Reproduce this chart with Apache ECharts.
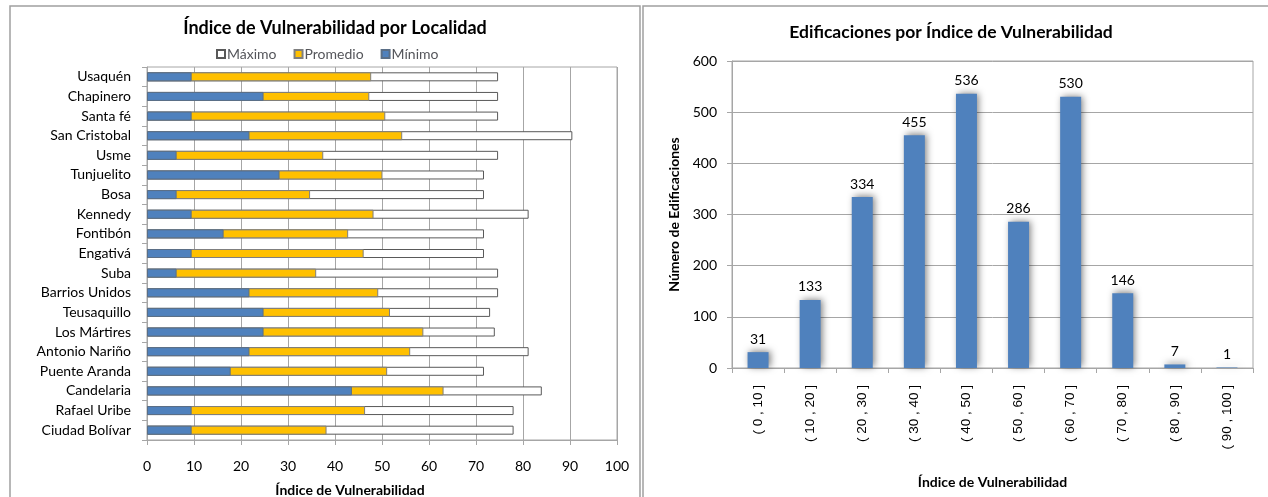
<!DOCTYPE html>
<html><head><meta charset="utf-8">
<script src="https://cdn.jsdelivr.net/npm/echarts/dist/echarts.min.js"></script>
<style>html,body{margin:0;padding:0;background:#fff}#c{width:1268px;height:497px}</style>
</head><body><div id="c"></div>
<script>
const localidades = ['Usaquén','Chapinero','Santa fé','San Cristobal','Usme','Tunjuelito','Bosa','Kennedy','Fontibón','Engativá','Suba','Barrios Unidos','Teusaquillo','Los Mártires','Antonio Nariño','Puente Aranda','Candelaria','Rafael Uribe','Ciudad Bolívar'];
const maximo   = [74.7,74.7,74.7,90.5,74.7,71.7,71.7,81.2,71.7,71.7,74.7,74.7,73.0,74.0,81.2,71.7,84.0,78.0,78.0];
const promedio = [47.7,47.3,50.7,54.3,37.5,50.1,34.7,48.2,42.8,46.1,36.0,49.2,51.7,58.8,56.0,51.1,63.1,46.4,38.2];
const minimo   = [9.5,24.8,9.5,21.8,6.3,28.2,6.3,9.5,16.3,9.5,6.3,21.8,24.8,24.8,21.8,17.8,43.6,9.5,9.5];
const rangos = ['( 0 , 10 ]','( 10 , 20 ]','( 20 , 30 ]','( 30 , 40 ]','( 40 , 50 ]','( 50 , 60 ]','( 60 , 70 ]','( 70 , 80 ]','( 80 , 90 ]','( 90 , 100 ]'];
const edificaciones = [31,133,334,455,536,286,530,146,7,1];

const F = 'Lato, "Liberation Sans", sans-serif';
const GRID = '#a6a6a6';
const chart = echarts.init(document.getElementById('c'));
chart.setOption({
  animation: false,
  textStyle: {fontFamily: F, color: '#000'},
  graphic: [
    {type: 'rect', shape: {x: 10, y: 6, width: 630, height: 520}, style: {fill: 'none', stroke: '#a0a0a0', lineWidth: 1.5}},
    {type: 'rect', shape: {x: 643, y: 6, width: 640, height: 520}, style: {fill: 'none', stroke: '#a0a0a0', lineWidth: 1.5}},
    {type: 'text', x: 335, y: 28, style: {text: 'Índice de Vulnerabilidad por Localidad', font: 'bold 18px ' + F, fill: '#000', textAlign: 'center', textVerticalAlign: 'middle'}},
    {type: 'text', x: 951, y: 32, style: {text: 'Edificaciones por Índice de Vulnerabilidad', font: 'bold 17.5px ' + F, fill: '#000', textAlign: 'center', textVerticalAlign: 'middle'}},
    {type: 'text', x: 350, y: 490, style: {text: 'Índice de Vulnerabilidad', font: 'bold 14px ' + F, fill: '#000', textAlign: 'center', textVerticalAlign: 'middle'}}
  ],
  legend: {
    left: 216, top: 47, padding: 0, itemWidth: 8, itemHeight: 8, itemGap: 17, icon: 'rect',
    textStyle: {fontSize: 14, fontFamily: F, padding: [0, 0, 0, -3]},
    data: ['Máximo', 'Promedio', 'Mínimo']
  },
  grid: [
    {left: 147, top: 67, width: 470, height: 373, show: true, borderColor: GRID, borderWidth: 1, backgroundColor: 'transparent'},
    {left: 732, top: 61, width: 521, height: 307, show: true, borderColor: GRID, borderWidth: 1, backgroundColor: 'transparent'}
  ],
  xAxis: [
    {gridIndex: 0, type: 'value', min: 0, max: 100, interval: 10,
     axisLine: {show: true, lineStyle: {color: GRID}},
     axisTick: {show: true, length: 5, lineStyle: {color: GRID}},
     splitLine: {show: true, lineStyle: {color: GRID}},
     axisLabel: {fontSize: 14, margin: 19, color: '#000', fontFamily: F}},
    {gridIndex: 1, type: 'category', data: rangos,
     axisLine: {lineStyle: {color: GRID}},
     axisTick: {show: true, length: 5, lineStyle: {color: GRID}},
     axisLabel: {rotate: 90, fontSize: 13.5, margin: 17, color: '#000', fontFamily: '"Liberation Sans", sans-serif'},
     name: 'Índice de Vulnerabilidad', nameLocation: 'middle', nameGap: 107,
     nameTextStyle: {fontWeight: 'bold', fontSize: 14, fontFamily: F, color: '#000'}}
  ],
  yAxis: [
    {gridIndex: 0, type: 'category', data: localidades, inverse: true,
     axisLine: {lineStyle: {color: GRID}},
     axisTick: {show: true, length: 5, lineStyle: {color: GRID}},
     axisLabel: {fontSize: 14, margin: 16, color: '#000', fontFamily: F}},
    {gridIndex: 1, type: 'value', min: 0, max: 600, interval: 100,
     axisLine: {show: true, lineStyle: {color: GRID}},
     axisTick: {show: true, length: 5, lineStyle: {color: GRID}},
     splitLine: {show: true, lineStyle: {color: GRID}},
     axisLabel: {fontSize: 14, margin: 15, color: '#000', fontFamily: F},
     name: 'Número de Edificaciones', nameLocation: 'middle', nameGap: 51,
     nameTextStyle: {fontWeight: 'bold', fontSize: 14, fontFamily: F, color: '#000'}}
  ],
  series: [
    {name: 'Máximo', type: 'bar', xAxisIndex: 0, yAxisIndex: 0, data: maximo, barWidth: 9, barGap: '-100%',
     itemStyle: {color: '#ffffff', borderColor: '#595959', borderWidth: 1}},
    {name: 'Promedio', type: 'bar', xAxisIndex: 0, yAxisIndex: 0, data: promedio, barWidth: 9, barGap: '-100%',
     itemStyle: {color: '#ffc000', borderColor: '#7f7f7f', borderWidth: 1}},
    {name: 'Mínimo', type: 'bar', xAxisIndex: 0, yAxisIndex: 0, data: minimo, barWidth: 9, barGap: '-100%',
     itemStyle: {color: '#4f81bd', borderColor: '#5a6e86', borderWidth: 1}},
    {name: 'Edificaciones', type: 'bar', xAxisIndex: 1, yAxisIndex: 1, data: edificaciones, barWidth: 21,
     itemStyle: {color: '#4f81bd', shadowBlur: 7, shadowColor: 'rgba(0,0,0,0.5)', shadowOffsetX: 2, shadowOffsetY: -1},
     label: {show: true, position: 'top', distance: 6, fontSize: 14, color: '#000', fontFamily: F}}
  ]
});
</script></body></html>
